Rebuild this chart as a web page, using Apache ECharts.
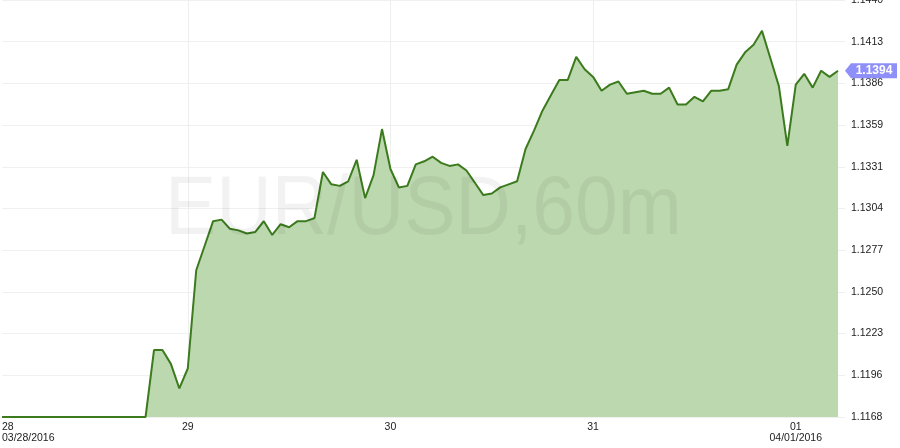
<!DOCTYPE html>
<html>
<head>
<meta charset="utf-8">
<script src="https://cdn.jsdelivr.net/npm/echarts@6/dist/echarts.min.js"></script>
<style>
  html, body { margin: 0; padding: 0; background: #fff; }
  #chart { width: 900px; height: 448px; }
</style>
</head>
<body>
<div id="chart"></div>
<script>
// hourly closes, EUR/USD 60m, 03/28/2016 02:00 .. 04/01/2016 05:00
const startHour = Date.UTC(2016, 2, 28, 2);
const prices = [
  1.11684, 1.11684, 1.11684, 1.11684, 1.11684, 1.11684, 1.11684, 1.11684, 1.11684, 1.11684,
  1.11684, 1.11684, 1.11684, 1.11684, 1.11684, 1.11684, 1.11684, 1.11684, 1.1212, 1.1212,
  1.1203, 1.1187, 1.1200, 1.1264, 1.1280, 1.1296, 1.1297, 1.1291, 1.1290, 1.1288,
  1.1289, 1.1296, 1.1287, 1.1294, 1.1292, 1.1296, 1.1296, 1.1298, 1.1328, 1.1320,
  1.1319, 1.1322, 1.1336, 1.1311, 1.1326, 1.1356, 1.1330, 1.1318, 1.1319, 1.1333,
  1.1335, 1.1338, 1.1334, 1.1332, 1.1333, 1.1329, 1.1321, 1.1313, 1.1314, 1.1318,
  1.1320, 1.1322, 1.1343, 1.1355, 1.1368, 1.1378, 1.1388, 1.1388, 1.1403, 1.1395,
  1.1390, 1.1381, 1.1385, 1.1387, 1.1379, 1.1380, 1.1381, 1.1379, 1.1379, 1.1383,
  1.1372, 1.1372, 1.1377, 1.1374, 1.1381, 1.1381, 1.1382, 1.1398, 1.1406, 1.1411,
  1.1420, 1.1402, 1.1384, 1.1345, 1.1385, 1.1392, 1.1383, 1.1394, 1.1390, 1.1394
];
const yTicks = [1.11684, 1.119557, 1.122274, 1.124991, 1.127708, 1.130425,
  1.133142, 1.135859, 1.138576, 1.141293, 1.14401];

function pad(n) { return n < 10 ? '0' + n : '' + n; }

// category labels "MM/DD/YYYY HH:00"
const hours = [];
for (let i = 0; i < prices.length; i++) {
  const d = new Date(startHour + i * 3600000);
  hours.push(pad(d.getUTCMonth() + 1) + '/' + pad(d.getUTCDate()) + '/' + d.getUTCFullYear() +
    ' ' + pad(d.getUTCHours()) + ':00');
}

function isDayLabel(idx) {
  return idx === 0 || hours[idx].slice(11, 13) === '00';
}

const lastIdx = prices.length - 1;
const lastPrice = prices[lastIdx];

const chart = echarts.init(document.getElementById('chart'));

const option = {
  animation: false,
  textStyle: { fontFamily: '"Liberation Sans", Arial, sans-serif' },
  grid: {
    left: 2, right: 62, top: 0, bottom: 31,
    containLabel: false,
    outerBoundsMode: 'none'
  },
  xAxis: {
    type: 'category',
    data: hours,
    boundaryGap: false,
    axisLine: { show: false },
    axisTick: { show: false },
    axisLabel: {
      interval: (idx) => isDayLabel(idx),
      alignMinLabel: 'left',
      color: '#222',
      fontSize: 10.5,
      lineHeight: 11,
      margin: 5,
      formatter: (value, idx) => {
        const day = value.slice(3, 5);
        if (idx === 0 || day === '01') return day + '\n' + value.slice(0, 10);
        return day;
      }
    },
    splitLine: {
      show: true,
      interval: (idx) => idx > 0 && isDayLabel(idx),
      lineStyle: { color: '#eeeeee', width: 1 }
    }
  },
  yAxis: {
    type: 'value',
    position: 'right',
    min: yTicks[0],
    max: yTicks[yTicks.length - 1],
    axisLine: { show: false },
    axisTick: {
      show: true,
      length: 7,
      customValues: yTicks,
      lineStyle: { color: '#eeeeee' }
    },
    axisLabel: {
      customValues: yTicks,
      color: '#222',
      fontSize: 10.5,
      margin: 13,
      formatter: (v) => v.toFixed(4)
    },
    splitLine: { show: true, lineStyle: { color: '#f0f0f0', width: 1 } }
  },
  graphic: [{
    type: 'text',
    x: 165,
    y: 211,
    scaleX: 0.915,
    z: 100,
    silent: true,
    style: {
      text: 'EUR/USD,60m',
      font: '84px "Liberation Sans", Arial, sans-serif',
      fill: 'rgba(0,0,0,0.05)',
      align: 'left',
      verticalAlign: 'middle',
      textAlign: 'left',
      textVerticalAlign: 'middle'
    }
  }],
  series: [{
    type: 'line',
    data: prices,
    symbol: 'none',
    lineStyle: { color: '#3b7a1d', width: 2 },
    areaStyle: { color: '#bcd8ae', opacity: 1 },
    markPoint: {
      silent: true,
      symbol: 'path://M0,7.5 L6,0 L52,0 L52,15 L6,15 Z',
      symbolSize: [52, 15],
      symbolOffset: [33, 0],
      itemStyle: { color: '#8f8ff9' },
      label: {
        show: true,
        position: 'inside',
        offset: [3, 0],
        color: '#fff',
        fontWeight: 'bold',
        fontSize: 12,
        formatter: () => lastPrice.toFixed(4)
      },
      data: [{ coord: [lastIdx, lastPrice] }]
    }
  }]
};

chart.setOption(option);
</script>
</body>
</html>
